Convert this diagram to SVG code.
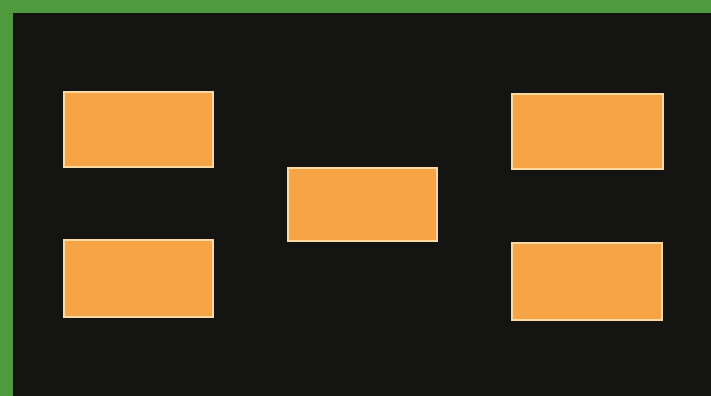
<svg xmlns="http://www.w3.org/2000/svg" width="711" height="396" viewBox="0 0 711 396">
<style>
.box{fill:#f6a445;stroke:#fbd9a0;stroke-width:2}
</style>
<rect x="0" y="0" width="711" height="396" fill="#4f9a3c"/>
<rect x="13" y="13" width="698" height="383" fill="#141512"/>
<g id="node-top-left"><rect class="box" x="64" y="92" width="149" height="75"/></g>
<g id="node-bottom-left"><rect class="box" x="64" y="240" width="149" height="77"/></g>
<g id="node-center"><rect class="box" x="288" y="168" width="149" height="73"/></g>
<g id="node-top-right"><rect class="box" x="512" y="94" width="151" height="75"/></g>
<g id="node-bottom-right"><rect class="box" x="512" y="243" width="150" height="77"/></g>
<g id="connectors"></g>
</svg>
